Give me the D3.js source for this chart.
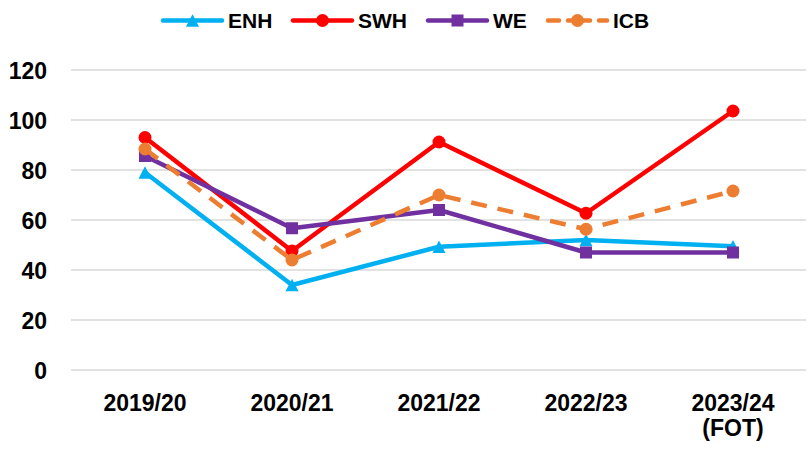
<!DOCTYPE html>
<html>
<head>
<meta charset="utf-8">
<script src="https://cdn.jsdelivr.net/npm/d3@7"></script>
<style>
  body { margin: 0; background: #fff; }
  text { font-family: "Liberation Sans", Arial, sans-serif; font-weight: bold; fill: #000; }
</style>
</head>
<body>
<script>
// data
var years = ["2019/20", "2020/21", "2021/22", "2022/23", "2023/24|(FOT)"];
var enh = [79, 34, 49.3, 52, 49.5];
var swh = [93, 47.6, 91.2, 62.7, 103.6];
var we  = [85.6, 56.7, 64, 47, 47];
var icb = [88.4, 44, 70, 56.3, 71.6];
var yTicks = [0, 20, 40, 60, 80, 100, 120];

var series = [
    {name: "ENH", values: enh, color: "#00B0F0", marker: "triangle", dash: null},
    {name: "SWH", values: swh, color: "#FF0000", marker: "circle", dash: null},
    {name: "WE",  values: we,  color: "#7030A0", marker: "square", dash: null},
    {name: "ICB", values: icb, color: "#ED7D31", marker: "circle", dash: "16,11"}
];

var width = 807, height = 450;
var svg = d3.select("body").append("svg")
    .attr("width", width)
    .attr("height", height);

var x = d3.scaleBand().domain(years).range([71.5, 806.5]);
var y = d3.scaleLinear().domain([0, 120]).range([370, 70]);
function cx(d) { return x(d) + x.bandwidth() / 2; }

// grid
svg.selectAll("line.grid")
    .data(yTicks)
    .enter()
    .append("line")
    .attr("class", "grid")
    .attr("x1", 71).attr("x2", 806)
    .attr("y1", function(d){ return y(d); })
    .attr("y2", function(d){ return y(d); })
    .attr("stroke", "#D9D9D9")
    .attr("stroke-width", 1.5);

// y axis labels
var yAxis = svg.append("g")
    .attr("transform", "translate(47,0)")
    .call(d3.axisLeft(y).tickValues(yTicks).tickSize(0).tickPadding(0));
yAxis.select(".domain").remove();
yAxis.selectAll("text")
    .attr("font-size", 23)
    .attr("font-family", "Liberation Sans, Arial, sans-serif")
    .attr("font-weight", "bold")
    .attr("fill", "#000")
    .attr("dy", "0.36em");

// x axis labels
var xAxis = svg.append("g")
    .attr("transform", "translate(0,370)")
    .call(d3.axisBottom(x).tickSize(0).tickPadding(0).tickFormat(""));
xAxis.select(".domain").remove();
xAxis.selectAll(".tick text").remove();
xAxis.selectAll(".tick")
    .append("text")
    .attr("text-anchor", "middle")
    .attr("font-size", 23)
    .each(function(d){
        var parts = d.split("|");
        var t = d3.select(this);
        parts.forEach(function(p, i){
            t.append("tspan").attr("x", 0).attr("y", 41 + i * 25).text(p);
        });
    });

var line = d3.line()
    .x(function(d, i){ return cx(years[i]); })
    .y(function(d){ return y(d); });

function drawMarker(g, type, color, px, py, size) {
    if (type === "circle") {
        g.append("circle").attr("cx", px).attr("cy", py).attr("r", size / 2).attr("fill", color);
    } else if (type === "square") {
        g.append("rect").attr("x", px - size / 2).attr("y", py - size / 2)
            .attr("width", size).attr("height", size).attr("fill", color);
    } else {
        var h = size * 0.95;
        g.append("path")
            .attr("d", "M" + px + "," + (py - h / 2) + "L" + (px + size / 2) + "," + (py + h / 2) + "L" + (px - size / 2) + "," + (py + h / 2) + "Z")
            .attr("fill", color);
    }
}

var sizes = {circle: 13, square: 12, triangle: 13};

series.forEach(function(s){
    var g = svg.append("g");
    g.append("path")
        .datum(s.values)
        .attr("d", line)
        .attr("fill", "none")
        .attr("stroke", s.color)
        .attr("stroke-width", 4.5)
        .attr("stroke-linejoin", "round")
        .attr("stroke-dasharray", s.dash);
    s.values.forEach(function(v, i){
        drawMarker(g, s.marker, s.color, cx(years[i]), y(v), sizes[s.marker]);
    });
});

// legend
var legendX = [163, 293, 428, 548];
var legend = svg.append("g");
series.forEach(function(s, i){
    var lx = legendX[i], ly = 20.5;
    legend.append("line")
        .attr("x1", lx).attr("x2", lx + 59)
        .attr("y1", ly).attr("y2", ly)
        .attr("stroke", s.color)
        .attr("stroke-width", 4.5)
        .attr("stroke-linecap", "round")
        .attr("stroke-dasharray", s.dash ? "11,9,22,9,11" : null);
    drawMarker(legend, s.marker, s.color, lx + 29.5, ly, sizes[s.marker]);
    legend.append("text")
        .attr("x", lx + 65)
        .attr("y", ly)
        .attr("dy", "0.36em")
        .attr("font-size", 21)
        .text(s.name);
});
</script>
</body>
</html>
